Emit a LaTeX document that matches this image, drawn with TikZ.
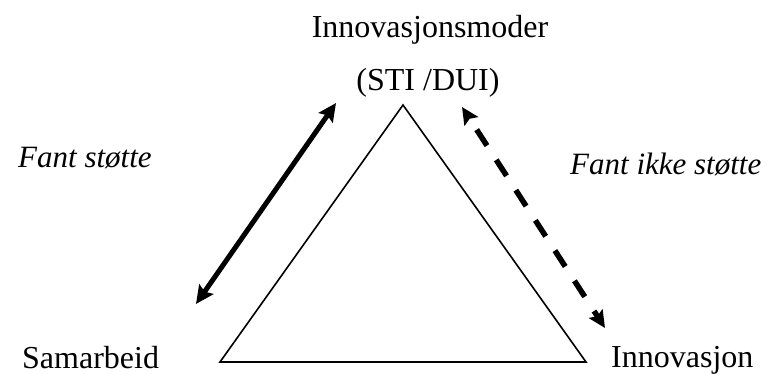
\documentclass[tikz,border=0pt]{standalone}
\usepackage{fontspec}
\setmainfont{Liberation Serif}
\usetikzlibrary{arrows.meta}
\tikzset{
  lbl/.style={inner sep=0pt, font=\fontsize{32}{38}\selectfont},
  ilbl/.style={lbl, font=\fontsize{31}{37}\selectfont\itshape},
  tri/.style={draw=black, line width=1.6pt, line join=miter},
  solidarrow/.style={line width=5pt, {Stealth[length=18pt,width=17pt,inset=3pt]}-{Stealth[length=18pt,width=17pt,inset=3pt]}},
  dasharrow/.style={line width=5.5pt, dash pattern=on 19pt off 17pt, dash phase=-14pt, {Stealth[length=17pt,width=16pt,inset=3pt]}-{Stealth[length=17pt,width=16pt,inset=3pt]}}
}
\begin{document}
\begin{tikzpicture}[x=1pt,y=-1pt]
\useasboundingbox (0,0) rectangle (779,374);
% triangle
\coordinate (apex) at (403,105);
\coordinate (bl) at (220,362);
\coordinate (br) at (586,362);
\draw[tri] (apex) -- (br) -- (bl) -- cycle;
% labels
\node[lbl, anchor=base] (top1) at (430,38) {Innovasjonsmoder};
\node[lbl, anchor=base] (top2) at (428,91) {(STI /DUI)};
\node[ilbl, anchor=base west] (fs) at (18,168) {Fant støtte};
\node[ilbl, anchor=base west] (fis) at (570,175) {Fant ikke støtte};
\node[lbl, anchor=base west] (sam) at (22,368) {Samarbeid};
\node[lbl, anchor=base west] (inn) at (611,367) {Innovasjon};
% arrows
\coordinate (sa1) at (196,304);
\coordinate (sa2) at (336,103);
\draw[solidarrow] (sa1) -- (sa2);
\coordinate (da1) at (462,107);
\coordinate (da2) at (605,328);
\draw[dasharrow] (da1) -- (da2);
\end{tikzpicture}
\end{document}
